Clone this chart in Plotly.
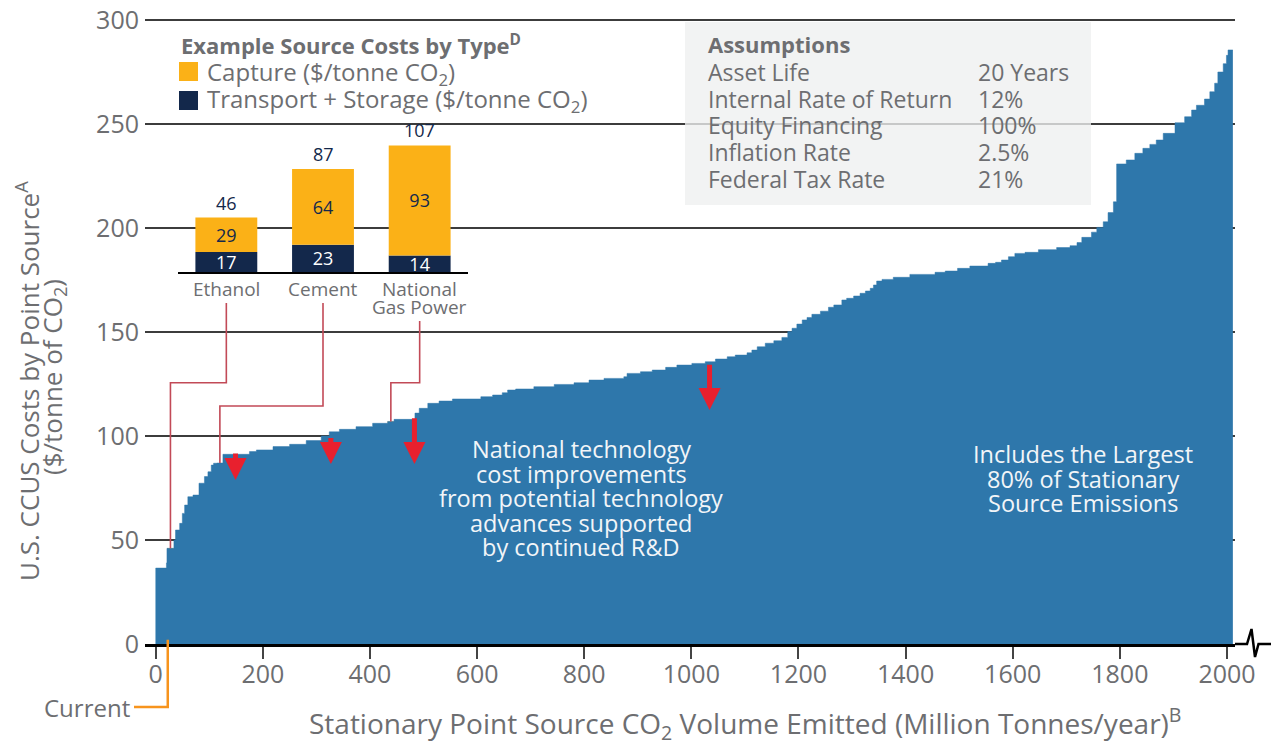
import plotly.graph_objects as go

# ---------------- data ----------------
# Marginal cost curve: left edge of each step (Mt/yr) and its cost ($/tonne CO2)
step_start = [0, 20, 21, 34, 37, 44.7, 49.7, 54, 60, 69.6, 80.8, 91, 97.5, 103.7, 108, 114.3,
              125.5, 175, 188, 219, 250, 281, 309, 324, 343, 374, 405, 433, 445, 484, 492,
              508, 529, 554, 607, 629, 647, 657, 672, 706, 744, 781, 809, 837, 874, 880,
              905, 927, 952, 973, 1001, 1026, 1045, 1067, 1082, 1104, 1113, 1123, 1138,
              1154, 1169, 1180, 1188, 1197, 1207, 1216, 1225, 1241, 1256, 1266, 1281, 1290,
              1303, 1315, 1325, 1334, 1340, 1346, 1356, 1377, 1408, 1455, 1474, 1497, 1520,
              1554, 1568, 1579, 1592, 1604, 1623, 1648, 1682, 1707, 1720, 1729, 1747, 1757,
              1769, 1778, 1788, 1794, 1812, 1828, 1843, 1856, 1868, 1881, 1903, 1921, 1934,
              1943, 1958, 1968, 1977, 1983, 1993, 1999, 2002]
step_cost = [36.5, 39, 46, 50, 54.8, 58, 62.8, 66.8, 70.8, 71.6, 77.3, 80.5, 82.8, 86, 86.9, 87,
             91.2, 92.5, 93.3, 94.9, 96, 97.8, 100, 102, 103.2, 104.5, 106.1, 107, 108, 111, 113.3,
             115.7, 116.8, 117.8, 118.9, 119.7, 120.8, 122.1, 122.6, 123.7, 124.8, 125.6, 126.9,
             127.7, 128.5, 130.1, 130.9, 131.7, 133, 134.1, 134.9, 135.7, 137, 138.1, 138.9,
             140, 141.3, 142.9, 144.6, 145.8, 147.4, 150.2, 151.8, 153.8, 155.8, 157, 158.5,
             160, 161.9, 163, 165.4, 166.2, 167.3, 168.6, 169.7, 171, 172.6, 174.5, 175.3,
             176.3, 177.7, 178.7, 179.3, 180.6, 181.7, 183, 183.5, 184.6, 186.2, 187.8, 188.3,
             189.6, 190.6, 191.5, 193, 195.5, 198, 200.3, 203, 207.4, 212.6, 230.8, 232.7,
             235.9, 238.3, 240.2, 242.3, 245.5, 250.6, 253.5, 256.7, 259, 262, 265.5, 269.6,
             275, 279, 283, 285.6]
step_end = 2011

existing_mid, existing_width, existing_cost = 10, 20, 36.5

source_types = ["Ethanol", "Cement", "National<br>Gas Power"]
capture_cost = [29, 64, 93]
transport_storage_cost = [17, 23, 14]
total_cost = [46, 87, 107]
highlight_x = [27.5, 119.8, 439]          # where each example source sits on the curve
highlight_width = 12
connector_level = [125.6, 114.4, 125.6]   # elbow height of each leader line ($/t)

arrow_x = [149, 327, 483, 1034]
arrow_from = [92.3, 99.7, 109.3, 135]
arrow_to = [78.8, 86.5, 86.5, 112.5]

x_ticks = [0, 200, 400, 600, 800, 1000, 1200, 1400, 1600, 1800, 2000]
y_ticks = [0, 50, 100, 150, 200, 250, 300]

assumption_labels = ["Asset Life", "Internal Rate of Return", "Equity Financing",
                     "Inflation Rate", "Federal Tax Rate"]
assumption_values = ["20 Years", "12%", "100%", "2.5%", "21%"]

# ---------------- styling ----------------
FONT = "Open Sans"
GRAY = "#6d6e71"
AREA = "#2e77ab"
EXIST = "#0b69a8"
ORANGE = "#fbb117"
NAVY = "#13284b"
RED = "#e8202e"
LEADER = "#c24a57"

OFF = 0                       # page body margin removed by the post script below
W, H = 1272 - OFF, 747 - OFF
L, R, B = 145 - OFF, 37, 103
T = 18 - OFF
PW, PH = W - L - R, H - T - B
XR = [-20, 2015]
YR = [0, 300 * PH / 624]      # leaves a hair of room so the 300 gridline shows


def PX(x):  # reference pixel -> paper
    return (x - OFF - L) / PW


def PY(y):
    return (H - B - (y - OFF)) / PH


def xp(v):  # data -> paper
    return (v - XR[0]) / (XR[1] - XR[0])


def yp(v):
    return (v - YR[0]) / (YR[1] - YR[0])


inset_dom_x = [PX(178), PX(468)]
inset_dom_y = [PY(272), PY(130)]


def x2p(i):
    return inset_dom_x[0] + (i + 0.5) / 3 * (inset_dom_x[1] - inset_dom_x[0])


fig = go.Figure()

# main cost curve
fig.add_trace(go.Scatter(
    x=step_start + [step_end], y=step_cost + [step_cost[-1]],
    mode="lines", line=dict(shape="hv", width=0.5, color=AREA),
    fill="tozeroy", fillcolor=AREA, hoverinfo="skip"))

fig.add_trace(go.Bar(x=[existing_mid], y=[existing_cost], width=[existing_width],
                     marker=dict(color=EXIST, line_width=0)))

fig.add_trace(go.Bar(x=highlight_x, y=transport_storage_cost, base=0,
                     width=highlight_width, marker=dict(color=NAVY, line_width=0)))
fig.add_trace(go.Bar(x=highlight_x, y=capture_cost, base=transport_storage_cost,
                     width=highlight_width, marker=dict(color=ORANGE, line_width=0)))

# inset stacked bars
cats = [0, 1, 2]
fig.add_trace(go.Bar(x=cats, y=transport_storage_cost, base=0, width=0.64,
                     marker=dict(color=NAVY, line_width=0),
                     text=[str(v) for v in transport_storage_cost], textposition="inside",
                     insidetextanchor="middle", constraintext="none", textangle=0,
                     textfont=dict(family=FONT, size=18, color="white"),
                     xaxis="x2", yaxis="y2", cliponaxis=False))
fig.add_trace(go.Bar(x=cats, y=capture_cost, base=transport_storage_cost, width=0.64,
                     marker=dict(color=ORANGE, line_width=0),
                     text=[str(v) for v in capture_cost], textposition="inside",
                     insidetextanchor="middle", constraintext="none", textangle=0,
                     textfont=dict(family=FONT, size=18, color=NAVY),
                     xaxis="x2", yaxis="y2", cliponaxis=False))

annotations = []
for i, tot in enumerate(total_cost):
    annotations.append(dict(x=cats[i], y=tot, xref="x2", yref="y2", text=str(tot),
                            showarrow=False, yanchor="bottom", yshift=1,
                            font=dict(family=FONT, size=18, color=NAVY)))

# red arrows
for xa, y0, y1 in zip(arrow_x, arrow_from, arrow_to):
    annotations.append(dict(x=xa, y=y1, ax=xa, ay=y0, xref="x", yref="y", axref="x", ayref="y",
                            text="", showarrow=True, arrowhead=2, arrowsize=0.88,
                            arrowwidth=5, arrowcolor=RED))


def txt(text, x, y, size, color=GRAY, xanchor="left", bold=False, angle=0, xr="paper"):
    annotations.append(dict(x=PX(x) if xr == "paper" else x, y=PY(y), xref=xr, yref="paper",
                            text=text, showarrow=False, xanchor=xanchor, yanchor="middle",
                            textangle=angle,
                            font=dict(family=FONT, size=size, color=color,
                                      weight="bold" if bold else "normal")))


# inset category labels (one annotation per line)
for i, name in enumerate(source_types):
    for k, part in enumerate(name.split("<br>")):
        txt(part, cats[i], 289 + k * 17.5, 19, xanchor="center", xr="x2")

# legend of inset
txt("Example Source Costs by Type<sup>D</sup>", 179, 45, 22, bold=True)
txt("Capture ($/tonne CO<sub>2</sub>)", 205, 73, 24)
txt("Transport + Storage ($/tonne CO<sub>2</sub>)", 205, 100, 24)

# assumptions
txt("Assumptions", 706, 44, 22, bold=True)
for k, (lab, val) in enumerate(zip(assumption_labels, assumption_values)):
    txt(lab, 706, 72 + k * 26.7, 23)
    txt(val, 976, 72 + k * 26.7, 23)

# text inside the area
for k, line in enumerate(["National technology", "cost improvements",
                          "from potential technology", "advances supported",
                          "by continued R&amp;D"]):
    txt(line, 581, 449 + k * 24.5, 23.5, color="#f2f5f8", xanchor="center")
for k, line in enumerate(["Includes the Largest", "80% of Stationary", "Source Emissions"]):
    txt(line, 1083, 454 + k * 24.5, 23.5, color="#f2f5f8", xanchor="center")

# axis titles
txt("Stationary Point Source CO<sub>2</sub> Volume Emitted (Million Tonnes/year)<sup>B</sup>",
    745, 723, 28, xanchor="center")
txt("U.S. CCUS Costs by Point Source<sup>A</sup>", 28, 381, 26, xanchor="center", angle=-90)
txt("($/tonne of CO<sub>2</sub>)", 53, 377, 26, xanchor="center", angle=-90)
txt("Current", 132, 707, 24, xanchor="right")

shapes = []
# assumptions box (semi-opaque so gridline shows faintly)
shapes.append(dict(type="rect", xref="paper", yref="paper", x0=PX(685), x1=PX(1091),
                   y0=PY(205), y1=PY(22), fillcolor="rgb(238,240,240)", opacity=0.78,
                   line_width=0, layer="above"))
# white backing for inset
shapes.append(dict(type="rect", xref="x2 domain", yref="y2 domain", x0=0, x1=0.972,
                   y0=-0.25, y1=1.04, fillcolor="white", line_width=0, layer="below"))
# legend swatches
shapes.append(dict(type="rect", xref="paper", yref="paper", x0=PX(179), x1=PX(198),
                   y0=PY(81), y1=PY(62), fillcolor=ORANGE, line_width=0))
shapes.append(dict(type="rect", xref="paper", yref="paper", x0=PX(179), x1=PX(198),
                   y0=PY(110), y1=PY(91), fillcolor=NAVY, line_width=0))
# leader lines from inset labels to the curve
label_bottom = [PY(303), PY(303), PY(321)]
for i in range(3):
    path = (f"M{x2p(i)},{label_bottom[i]} L{x2p(i)},{yp(connector_level[i])} "
            f"L{xp(highlight_x[i])},{yp(connector_level[i])} L{xp(highlight_x[i])},{yp(total_cost[i])}")
    shapes.append(dict(type="path", xref="paper", yref="paper", path=path,
                       line=dict(color=LEADER, width=1.6)))
# "Current" pointer
cx = xp(highlight_x[0] - 5)
shapes.append(dict(type="path", xref="paper", yref="paper",
                   path=f"M{PX(134)},{PY(707)} L{cx},{PY(707)} L{cx},{yp(2)}",
                   line=dict(color="#f7941d", width=2.5)))
# axis break
shapes.append(dict(type="path", xref="paper", yref="paper",
                   path=(f"M1,0 L{PX(1247)},0 L{PX(1251.5)},{PY(629)} L{PX(1255)},{PY(657)} "
                         f"L{PX(1258.5)},0 L{PX(1271)},0"),
                   line=dict(color="black", width=2.5)))

fig.update_layout(
    width=W, height=H, margin=dict(l=L, r=R, t=T, b=B, autoexpand=False),
    paper_bgcolor="white", plot_bgcolor="rgba(0,0,0,0)",
    barmode="overlay", showlegend=False,
    font=dict(family=FONT, color=GRAY),
    annotations=annotations, shapes=shapes,
    xaxis=dict(range=XR, tickvals=x_ticks, ticks="outside", ticklen=12, tickwidth=2,
               tickcolor="#444", showgrid=False, zeroline=False, showline=True,
               linecolor="black", linewidth=3, tickfont=dict(size=25, color=GRAY),
               ticklabelstandoff=-6, automargin=False),
    yaxis=dict(range=YR, tickvals=y_ticks, showgrid=True, gridcolor="#3c3c3c", gridwidth=1.5,
               zeroline=False, showline=False, ticks="", tickfont=dict(size=25, color=GRAY),
               ticklabelstandoff=5, ticklabeloverflow="allow", automargin=False),
    xaxis2=dict(domain=inset_dom_x, anchor="y2", range=[-0.5, 2.5], tickvals=cats,
                showticklabels=False, ticks="", showgrid=False, zeroline=False,
                showline=True, linecolor="black", linewidth=2, automargin=False),
    yaxis2=dict(domain=inset_dom_y, anchor="x2", range=[0, 120], visible=False,
                automargin=False),
)

fig.write_html("out.html", config={"displayModeBar": False},
               post_script="document.body.style.margin='0';")
